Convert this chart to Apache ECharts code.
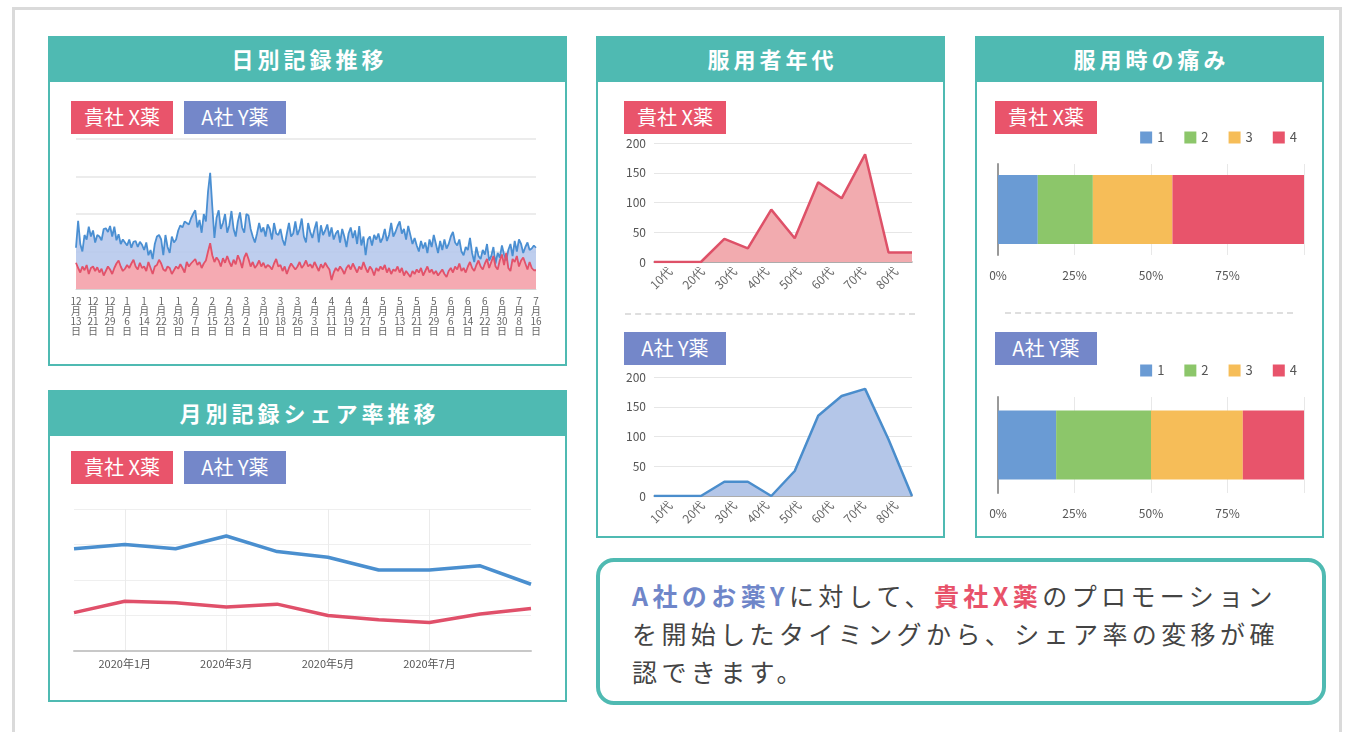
<!DOCTYPE html>
<html lang="ja">
<head>
<meta charset="utf-8">
<title>服用記録ダッシュボード</title>
<script src="https://cdn.jsdelivr.net/npm/echarts@6/dist/echarts.min.js"></script>
<style>
body { margin:0; width:1346px; height:732px; overflow:hidden; background:#fff; position:relative;
  font-family:'Noto Sans CJK JP', sans-serif; }
.frame { position:absolute; left:12px; top:7px; width:1330px; height:760px; border:3px solid #dadada; box-sizing:border-box; }
.panel { position:absolute; border:2px solid #4fbab2; box-sizing:border-box; background:#fff; }
.panel .head { height:44px; line-height:40px; background:#4fbab2; color:#fff; font-weight:bold;
  font-size:22px; letter-spacing:4px; text-indent:4px; text-align:center; }
.tag { position:absolute; width:102px; height:33px; line-height:32px; color:#fff; font-size:20px; text-align:center; z-index:5; }
.tag.x { background:#e9546b; }
.tag.y { background:#7487c9; }
.chart { position:absolute; }
.sep { position:absolute; height:0; border-top:2px dashed #dedede; }
.note { position:absolute; left:596px; top:558px; width:730px; height:147px; box-sizing:border-box;
  border:4px solid #4fbab2; border-radius:18px; padding:14px 0 0 32px; color:#444;
  font-size:25px; line-height:38px; letter-spacing:4.4px; white-space:nowrap; }
.note .a { color:#6f86c9; font-weight:bold; }
.note .x { color:#e8526a; font-weight:bold; }
</style>
</head>
<body>
<div class="frame"></div>

<div class="panel" style="left:48px;top:36px;width:519px;height:330px;"><div class="head">日別記録推移</div></div>
<div class="panel" style="left:48px;top:390px;width:519px;height:312px;"><div class="head">月別記録シェア率推移</div></div>
<div class="panel" style="left:596px;top:36px;width:349px;height:502px;"><div class="head">服用者年代</div></div>
<div class="panel" style="left:975px;top:36px;width:349px;height:502px;"><div class="head">服用時の痛み</div></div>

<div class="tag x" style="left:71px;top:101px;">貴社 X薬</div>
<div class="tag y" style="left:184px;top:101px;">A社 Y薬</div>
<div class="tag x" style="left:71px;top:451px;">貴社 X薬</div>
<div class="tag y" style="left:184px;top:451px;">A社 Y薬</div>
<div class="tag x" style="left:624px;top:101px;">貴社 X薬</div>
<div class="tag y" style="left:624px;top:332px;">A社 Y薬</div>
<div class="tag x" style="left:995px;top:101px;">貴社 X薬</div>
<div class="tag y" style="left:995px;top:332px;">A社 Y薬</div>

<div class="sep" style="left:625px;top:313px;width:290px;"></div>
<div class="sep" style="left:1005px;top:312px;width:288px;"></div>

<div id="daily" class="chart" style="left:50px;top:83px;width:515px;height:281px;"></div>
<div id="monthly" class="chart" style="left:50px;top:438px;width:515px;height:262px;"></div>
<div id="ageX" class="chart" style="left:598px;top:136px;width:345px;height:172px;"></div>
<div id="ageY" class="chart" style="left:598px;top:370px;width:345px;height:166px;"></div>
<div id="painX" class="chart" style="left:977px;top:120px;width:345px;height:180px;"></div>
<div id="painY" class="chart" style="left:977px;top:352px;width:345px;height:180px;"></div>

<div class="note"><span class="a">A社のお薬Y</span>に対して、<span class="x">貴社X薬</span>のプロモーション<br>を開始したタイミングから、シェア率の変移が確<br>認できます。</div>

<script>
// 日別記録 (2019/12/13 〜 2020/7/16)
var dayStart = '2019-12-13';
var dayCount = 217;
var dailyY = [
  55, 91, 60, 50, 72, 66, 83, 70,   78, 62, 72, 70, 65, 80, 81, 76,
  84, 70, 83, 65, 73, 60, 66, 62,   58, 66, 55, 63, 64, 56, 63, 59,
  52, 62, 45, 52, 40, 60, 70, 72,   66, 45, 72, 56, 48, 70, 62, 66,
  78, 85, 82, 90, 88, 86, 94, 100,  105, 82, 92, 75, 100, 90, 130, 155,
  110, 68, 95, 105, 80, 88, 100, 75, 85, 104, 80, 70, 90, 102, 82, 75,
  100, 98, 80, 70, 62, 74, 88, 76,  82, 70, 86, 80, 66, 88, 74, 72,
  80, 66, 58, 74, 88, 70, 74, 90,   72, 80, 94, 70, 62, 88, 76, 68,
  80, 90, 62, 85, 72, 78, 86, 70,   82, 66, 74, 78, 62, 80, 70, 56,
  74, 82, 68, 78, 60, 84, 58, 70,   45, 66, 70, 58, 72, 66, 74, 62,
  68, 80, 64, 72, 88, 70, 76, 84,   90, 74, 80, 66, 84, 72, 60, 68,
  58, 50, 64, 54, 62, 48, 66, 56,   72, 60, 48, 64, 52, 66, 54, 60,
  70, 76, 62, 58, 66, 50, 45, 56,   52, 68, 48, 36, 56, 44, 40, 52,
  46, 60, 38, 44, 56, 34, 48, 42,   58, 46, 38, 52, 60, 44, 64, 50,
  66, 60, 48, 56, 62, 52, 54, 58,   55
];
var dailyX = [
  35, 28, 22, 30, 25, 32, 20, 28,   30, 24, 29, 22, 27, 18, 24, 30,
  26, 20, 28, 34, 38, 30, 24, 27,   32, 28, 34, 39, 30, 26, 35, 28,
  30, 24, 36, 28, 20, 30, 32, 39,   34, 26, 24, 30, 28, 20, 25, 30,
  27, 33, 28, 22, 36, 30, 34, 37,   40, 32, 36, 28, 34, 38, 50, 61,
  45, 36, 42, 38, 30, 41, 35, 44,   36, 30, 39, 33, 45, 38, 28, 42,
  48, 40, 30, 36, 28, 32, 38, 30,   35, 28, 32, 30, 26, 34, 40, 30,
  32, 24, 30, 20, 28, 34, 30, 26,   30, 36, 28, 32, 38, 30, 33, 28,
  36, 30, 24, 33, 28, 35, 30, 26,   12, 22, 28, 24, 30, 26, 20, 28,
  32, 26, 34, 28, 22, 30, 26, 36,   28, 22, 30, 26, 18, 28, 24, 30,
  26, 32, 22, 28, 20, 26, 24, 30,   22, 28, 18, 24, 20, 16, 24, 20,
  26, 22, 28, 18, 24, 30, 22, 26,   20, 24, 18, 22, 26, 20, 16, 24,
  28, 22, 30, 26, 34, 24, 28, 22,   30, 36, 28, 24, 32, 38, 30, 26,
  34, 40, 28, 36, 44, 30, 26, 38,   46, 32, 48, 28, 24, 40, 36, 44,
  30, 38, 42, 34, 26, 36, 28, 25,   25
];

// 月別シェア率
var monthCats = ['2019年12月', '2020年1月', '2020年2月', '2020年3月', '2020年4月',
                 '2020年5月', '2020年6月', '2020年7月', '2020年8月', '2020年9月'];
var monthShown = ['2020年1月', '2020年3月', '2020年5月', '2020年7月'];
var monthY = [72, 75, 72, 81, 70, 66, 57, 57, 60, 47];
var monthX = [27, 35, 34, 31, 33, 25, 22, 20, 26, 30];

// 服用者年代
var agePoints = ['10', '17', '24', '31', '38', '45', '52', '59', '66', '73', '80', '87'];
var ageLabels = ['10代', '20代', '30代', '40代', '50代', '60代', '70代', '80代'];
var ageX = [0, 0, 0, 39, 23, 88, 40, 134, 107, 181, 16, 16];
var ageY = [0, 0, 0, 24, 24, 0, 42, 135, 168, 180, 95, 0];
var ageTicks = [0, 50, 100, 150, 200];

// 服用時の痛み (%)
var painLevels = ['1', '2', '3', '4'];
var painColors = ['#6a9bd4', '#8cc66a', '#f6bd58', '#e8546b'];
var painX = [13, 18, 26, 43];
var painY = [19, 31, 30, 20];
var pctTicks = [0, 25, 50, 75, 100];

var FONT = 'Noto Sans CJK JP';

// 日付ラベル
var dayLabels = [];
(function () {
    var d = new Date(dayStart + 'T00:00:00');
    for (var i = 0; i < dayCount; i++) {
        dayLabels.push((d.getMonth() + 1) + '/' + d.getDate());
        d.setDate(d.getDate() + 1);
    }
})();

//日別記録推移
function InitDaily(id) {
    var Chart = echarts.init(document.getElementById(id));
    Chart.setOption({
        animation: false,
        textStyle: {fontFamily: FONT},
        grid: {left: 26, top: 56, width: 460, height: 150},
        xAxis: {
            type: 'category',
            data: dayLabels,
            boundaryGap: false,
            axisLine: {lineStyle: {color: '#d5d5d5'}},
            axisTick: {show: false},
            axisLabel: {
                interval: 7, margin: 7,
                color: '#666', fontSize: 10, lineHeight: 10,
                formatter: function (v) {
                    var p = v.split('/');
                    return p[0] + '\n月\n' + p[1] + '\n日';
                }
            }
        },
        yAxis: {
            type: 'value', min: 0, max: 200, interval: 50,
            axisLabel: {show: false},
            splitLine: {lineStyle: {color: '#ececec', width: 2}}
        },
        series: [
            {
                name: 'A社 Y薬', type: 'line', data: dailyY, symbol: 'none',
                lineStyle: {color: '#4a8fd2', width: 1.8},
                areaStyle: {color: '#b7c9ec', opacity: 0.9}
            },
            {
                name: '貴社 X薬', type: 'line', data: dailyX, symbol: 'none',
                lineStyle: {color: '#e2526a', width: 1.8},
                areaStyle: {color: '#f5aab2', opacity: 1}
            }
        ]
    });
}

//月別記録シェア率推移
function InitMonthly(id) {
    var Chart = echarts.init(document.getElementById(id));
    var shown = function (i, v) { return monthShown.indexOf(monthCats[i]) >= 0; };
    Chart.setOption({
        animation: false,
        textStyle: {fontFamily: FONT},
        grid: {left: 24, top: 71, width: 457, height: 142},
        xAxis: {
            type: 'category',
            data: monthCats,
            boundaryGap: false,
            axisLine: {lineStyle: {color: '#c8c8c8', width: 2}},
            axisTick: {show: false},
            axisLabel: {interval: shown, color: '#555', fontSize: 11, margin: 7},
            splitLine: {show: true, interval: shown, lineStyle: {color: '#ebebeb'}}
        },
        yAxis: {
            type: 'value', min: 0, max: 100, interval: 25,
            axisLabel: {show: false},
            splitLine: {lineStyle: {color: '#efefef'}}
        },
        series: [
            {name: 'A社 Y薬', type: 'line', data: monthY, symbol: 'none', lineStyle: {color: '#4a8fcf', width: 3.5}},
            {name: '貴社 X薬', type: 'line', data: monthX, symbol: 'none', lineStyle: {color: '#e0506a', width: 3.5}}
        ]
    });
}

//服用者年代
function InitAge(id, name, values, lineColor, areaColor) {
    var Chart = echarts.init(document.getElementById(id));
    Chart.setOption({
        animation: false,
        textStyle: {fontFamily: FONT},
        grid: {left: 56, top: 7, width: 258, height: 119},
        xAxis: [
            {
                type: 'category', data: agePoints, boundaryGap: false,
                axisLine: {lineStyle: {color: '#999', width: 1.5}},
                axisTick: {show: false}, axisLabel: {show: false}
            },
            {
                type: 'category', data: ageLabels, position: 'bottom', boundaryGap: true,
                axisLine: {show: false}, axisTick: {show: false},
                axisLabel: {rotate: 45, color: '#666', fontSize: 12, margin: 7}
            }
        ],
        yAxis: {
            type: 'value', min: ageTicks[0], max: ageTicks[ageTicks.length - 1], interval: 50,
            axisLabel: {color: '#555', fontSize: 12, margin: 8},
            splitLine: {lineStyle: {color: '#e6e6e6'}}
        },
        series: [{
            name: name, type: 'line', data: values, symbol: 'none',
            lineStyle: {color: lineColor, width: 2.5},
            areaStyle: {color: areaColor, opacity: 1}
        }]
    });
}

//服用時の痛み
function InitPain(id, name, values, top, height) {
    var Chart = echarts.init(document.getElementById(id));
    var series = [];
    for (var i = 0; i < painLevels.length; i++) {
        series.push({
            name: painLevels[i], type: 'bar', stack: 'pain', barWidth: 69,
            itemStyle: {color: painColors[i]},
            data: [values[i]]
        });
    }
    Chart.setOption({
        animation: false,
        textStyle: {fontFamily: FONT},
        legend: {
            data: painLevels, right: 20, top: top - 38,
            icon: 'rect', itemWidth: 12, itemHeight: 12, itemGap: 20,
            textStyle: {color: '#555', fontSize: 13}
        },
        grid: {left: 21, top: top, width: 306, height: height},
        xAxis: {
            type: 'value', min: pctTicks[0], max: pctTicks[pctTicks.length - 1], interval: 25,
            axisLine: {show: false}, axisTick: {show: false},
            axisLabel: {
                color: '#555', fontSize: 12, margin: 14,
                formatter: function (v) { return v === 100 ? '' : v + '%'; }
            },
            splitLine: {lineStyle: {color: '#e8e8e8'}}
        },
        yAxis: {
            type: 'category', data: [name],
            axisLine: {show: true, lineStyle: {color: '#999', width: 2}},
            axisTick: {show: false}, axisLabel: {show: false}
        },
        series: series
    });
}

InitDaily('daily');
InitMonthly('monthly');
InitAge('ageX', '貴社 X薬', ageX, '#de5168', '#f2abaf');
InitAge('ageY', 'A社 Y薬', ageY, '#4a8dcc', '#b4c6e8');
InitPain('painX', '貴社 X薬', painX, 44, 91);
InitPain('painY', 'A社 Y薬', painY, 45, 96);
</script>
</body>
</html>
